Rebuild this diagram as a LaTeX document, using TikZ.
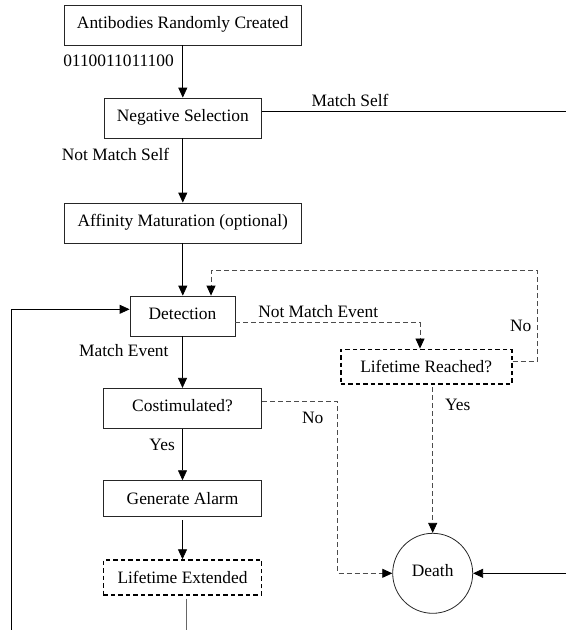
\documentclass[tikz,border=0pt]{standalone}
\usepackage{fontspec}
\setmainfont{Liberation Serif}
\usetikzlibrary{arrows.meta,calc}

\begin{document}
\begin{tikzpicture}[x=1pt,y=-1pt,
  font=\fontsize{17.4}{20}\selectfont,
  box/.style={draw=black!85,line width=0.8pt,inner sep=0pt,minimum height=40pt,
    text height=11.5pt,text depth=5.5pt},
  lowbox/.style={draw=black!85,line width=0.8pt,inner sep=0pt,
    text height=11.5pt,text depth=0pt},
  dbox/.style={draw=black,line width=1.6pt,dash pattern=on 4.5pt off 3pt,inner sep=0pt,
    text height=11.5pt,text depth=0pt},
  tip/.style={-{Triangle[width=9pt,length=10pt,color=black]}},
  line/.style={draw=black,line width=0.8pt},
  flow/.style={line,tip},
  dflow/.style={draw=black!70,line width=0.8pt,dash pattern=on 5pt off 3pt,tip},
  lbl/.style={inner sep=0pt}]

\useasboundingbox (0,0) rectangle (566,630);

% process boxes
\node[box,minimum width=237.7pt] (ab)  at (182.8,25)    {Antibodies Randomly Created};
\node[box,minimum width=157.7pt] (neg) at (182.8,118)   {Negative Selection};
\node[box,minimum width=237.7pt] (aff) at (182.8,223)   {Affinity Maturation (optional)};
\node[box,minimum width=105pt]   (det) at (182.5,316)   {Detection};
\node[box,minimum width=158.4pt] (cos) at (182.5,408.3) {Costimulated?};
\node[lowbox,minimum width=158.4pt,minimum height=35.3pt] (gen) at (182.5,498.3) {Generate Alarm};
\node[dbox,line width=1.4pt,minimum width=158.4pt,minimum height=35pt] (ext) at (182.5,577.5) {Lifetime Extended};
\node[dbox,minimum width=171pt,minimum height=34.7pt] (lr) at (426.2,366.7) {Lifetime Reached?};
\node[draw=black!85,circle,line width=0.8pt,minimum size=80pt,inner sep=0pt] (death) at (432.7,573.3) {\raisebox{5pt}{Death}};

% free ends and corners of the connectors
\coordinate (msEnd)    at (566,111.7);
\coordinate (loopR)    at (537.7,270.7);
\coordinate (fbB)      at (11.7,630);
\coordinate (noCorner) at (337.5,573.3);
\coordinate (extB)     at (186.7,630);
\coordinate (dR)       at (566,573.3);

% solid flow
\draw[flow] (ab) -- (neg);
\draw[line] (neg.east |- msEnd) -- (msEnd);
\draw[flow] (neg) -- (aff);
\draw[flow] (aff.south) -- (aff.south |- det.north);
\draw[flow] (fbB) |- ([yshift=6.7pt]det.west);
\draw[flow] (det) -- (cos);
\draw[flow] (cos) -- (gen);
\draw[flow,shorten <=4pt] (gen) -- (ext);
\draw[draw=black!60,line width=1pt,shorten <=3pt] (ext.south -| extB) -- (extB);
\draw[flow] (dR) -- (death.east);

% dashed flow
\draw[dflow] ([yshift=-6.3pt]det.east) -| ([xshift=-6.2pt]lr.north);
\draw[dflow] ([yshift=5.7pt]lr.east) -| (loopR) -| ([xshift=28.5pt]det.north);
\draw[dflow] ([yshift=6.6pt]cos.east) -| (noCorner) -- (death.west);
\draw[dflow,shorten <=2.5pt] (lr.south -| death.north) -- (death.north);

% connector labels
\node[lbl,anchor=base east] (bits) at (174,66.7)    {0110011011100};
\node[lbl,anchor=base]      (ms)   at (350,106)     {Match Self};
\node[lbl,anchor=base west] (nms)  at (61.7,160)    {Not Match Self};
\node[lbl,anchor=base east] (me)   at (168.7,356.7) {Match Event};
\node[lbl,anchor=base east] (nme)  at (378.3,317.3) {Not Match Event};
\node[lbl,anchor=base]      (no1)  at (520.7,331)   {No};
\node[lbl,anchor=base]      (yes1) at (457.7,410.7) {Yes};
\node[lbl,anchor=base]      (no2)  at (312.7,423.3) {No};
\node[lbl,anchor=base east] (yes2) at (175,450)     {Yes};
\end{tikzpicture}
\end{document}
